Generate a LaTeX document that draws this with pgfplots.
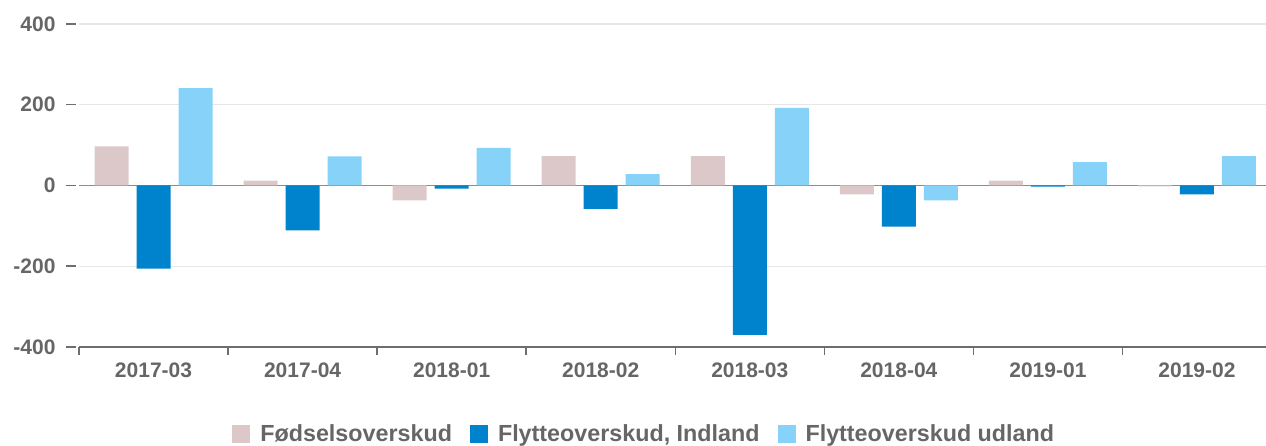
\documentclass[border=0pt]{standalone}
\usepackage{pgfplots}
\pgfplotsset{compat=1.18}
\usepackage{fontspec}
\setmainfont{Liberation Sans}
\definecolor{pinkbar}{RGB}{220,200,200}
\definecolor{darkbar}{RGB}{0,131,205}
\definecolor{lightbar}{RGB}{135,210,249}
\definecolor{txt}{RGB}{102,102,102}
\definecolor{gridc}{RGB}{230,230,230}
\definecolor{zeroc}{RGB}{140,140,140}
\definecolor{axc}{RGB}{110,110,110}
\begin{document}
\begin{tikzpicture}
\begin{axis}[
  at={(0pt,0pt)}, anchor=south west,
  scale only axis, width=1192.6pt, height=323pt,
  ybar=8pt, bar width=34pt,
  xmin=-0.5, xmax=7.5, ymin=-400, ymax=400,
  axis x line*=bottom, axis y line*=left,
  y axis line style={draw=none},
  x axis line style={draw=axc, line width=1.5pt, -},
  xtick={0,...,7},
  xticklabels={2017-03,2017-04,2018-01,2018-02,2018-03,2018-04,2019-01,2019-02},
  major x tick style={draw=none},
  minor xtick={-0.5,0.5,...,7.5},
  minor x tick style={draw=axc, line width=1.5pt},
  minor tick length=8pt,
  major tick length=10pt,
  tick align=outside,
  ytick={-400,-200,0,200,400},
  yticklabels={-400,-200,0,200,400},
  y tick style={draw=axc, line width=1.5pt, xshift=-3pt},
  ymajorgrids,
  grid style={draw=gridc, line width=1.2pt},
  extra y ticks={0},
  extra y tick labels={},
  extra y tick style={grid style={draw=zeroc, line width=1.8pt}},
  xticklabel style={font=\bfseries\fontsize{21}{25}\selectfont, text=txt, yshift=-2pt},
  yticklabel style={font=\bfseries\fontsize{21}{25}\selectfont, text=txt, xshift=-10pt},
  legend style={at={(0.474,-0.235)}, anchor=north, legend columns=-1, draw=none, fill=none,
    font=\bfseries\fontsize{23.3}{28}\selectfont, text=txt, inner sep=0pt,
    /tikz/every odd column/.append style={column sep=8pt},
    /tikz/every even column/.append style={column sep=16pt}},
  legend image code/.code={\fill[#1] (0pt,-9pt) rectangle (18pt,9pt);},
]
\addplot[fill=pinkbar, draw=none] coordinates {(0,97) (1,12) (2,-37) (3,73) (4,73) (5,-22) (6,12) (7,-2)};
\addplot[fill=darkbar, draw=none] coordinates {(0,-206) (1,-111) (2,-8) (3,-58) (4,-370) (5,-102) (6,-3) (7,-22)};
\addplot[fill=lightbar, draw=none] coordinates {(0,241) (1,72) (2,93) (3,28) (4,192) (5,-37) (6,58) (7,73)};
\legend{Fødselsoverskud, {Flytteoverskud, Indland}, Flytteoverskud udland}
\end{axis}
\pgfresetboundingbox
\path[use as bounding box] (-79pt,-99pt) rectangle (1187pt,347pt);
\end{tikzpicture}
\end{document}
